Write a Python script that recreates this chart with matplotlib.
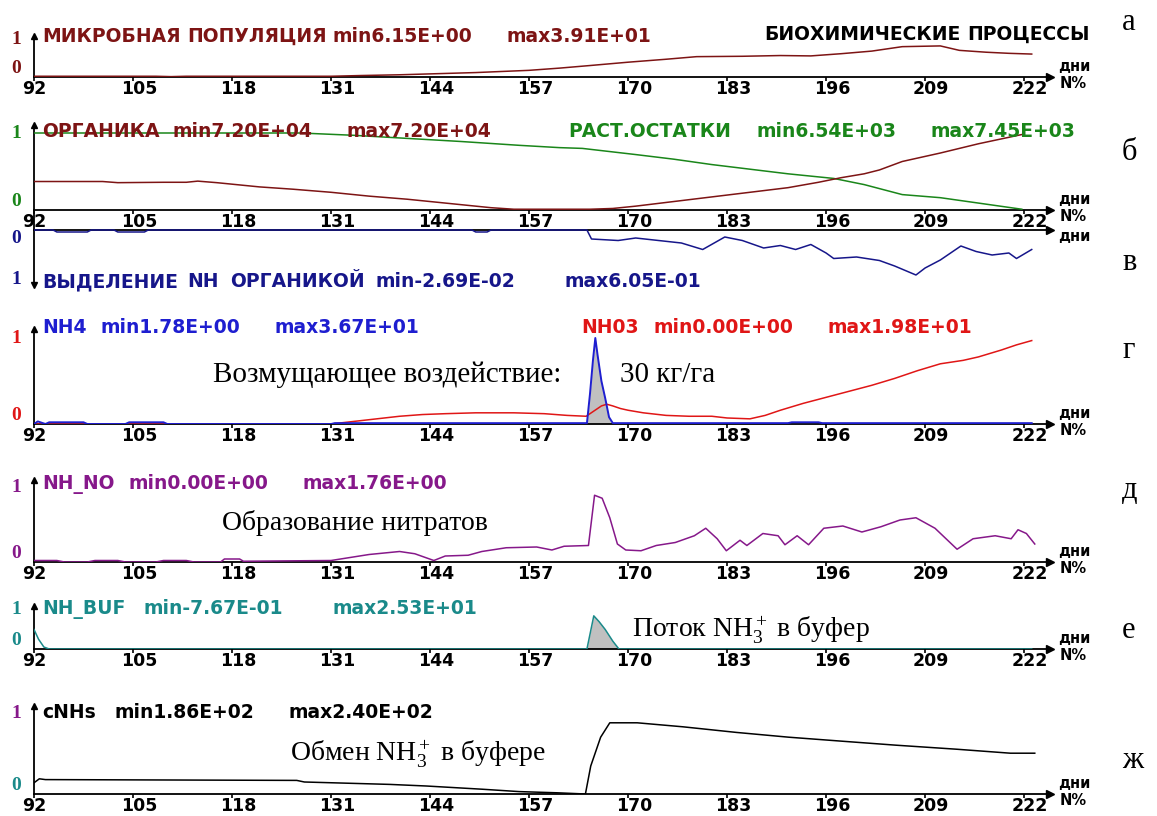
import matplotlib.pyplot as plt
from matplotlib import transforms

plt.rcParams['font.family'] = ['DejaVu Sans']
plt.rcParams['mathtext.fontset'] = 'custom'
plt.rcParams['mathtext.rm'] = 'Liberation Serif'
plt.rcParams['mathtext.it'] = 'Liberation Serif:italic'

W, H = 1157, 816
AX_L, AX_R = 34, 1050          # pixel columns of day 92 and of the arrow tip
DAY0, DAY_END = 92, 225.4
PITCH = 14.5                   # px per character of the screen font

tick_days = [92, 105, 118, 131, 144, 157, 170, 183, 196, 209, 222]

# а - microbial population (share of panel height)
mic_day = [92, 100, 108, 110, 112, 120, 131, 135, 140, 145,
           150, 157, 161, 165, 170, 175, 179, 185, 190, 194,
           198, 202, 206, 211, 213.5, 217, 220, 223]
mic_val = [0.02, 0.02, 0.02, 0.01, 0.02, 0.02, 0.02, 0.04, 0.06, 0.09,
           0.12, 0.18, 0.24, 0.31, 0.4, 0.48, 0.55, 0.56, 0.58, 0.57,
           0.63, 0.7, 0.82, 0.84, 0.72, 0.67, 0.64, 0.62]

# б - organic matter and plant residues
org_day = [92, 101, 103, 109, 112, 113.5, 116, 121.6, 126, 131,
           136, 141, 145, 148, 152, 155, 160, 165, 168, 171,
           176, 181, 186, 191, 195, 198, 201, 203, 206, 211,
           216, 221.7]
org_val = [0.37, 0.37, 0.355, 0.36, 0.36, 0.375, 0.355, 0.3, 0.27, 0.23,
           0.18, 0.14, 0.1, 0.07, 0.03, 0.01, 0.01, 0.01, 0.02, 0.05,
           0.11, 0.17, 0.23, 0.29, 0.36, 0.42, 0.47, 0.52, 0.63, 0.74,
           0.86, 0.98]
rast_day = [92, 127, 134, 141, 148, 155.7, 161, 164, 171, 176,
            181, 186, 191, 197, 201, 206, 211, 216, 221.7]
rast_val = [1.0, 1.0, 0.97, 0.93, 0.89, 0.84, 0.81, 0.8, 0.72, 0.66,
            0.59, 0.53, 0.47, 0.41, 0.33, 0.2, 0.16, 0.09, 0.01]

# в - NH release by organic matter (axis points down)
nhr_day = [92, 94.5, 95, 99, 99.5, 102.5, 103, 106.5, 107, 149.5,
           150, 151.5, 152, 164.6, 165.2, 168.7, 171, 174, 177, 179.8,
           182.7, 185, 187.8, 190, 192, 194, 196, 197, 200, 203,
           205, 207.8, 209, 211, 213.7, 215.7, 217.8, 220, 221, 223]
nhr_val = [0, 0, 0.04, 0.04, 0, 0, 0.04, 0.04, 0, 0,
           0.04, 0.04, 0, 0, 0.18, 0.21, 0.16, 0.21, 0.26, 0.39,
           0.14, 0.21, 0.36, 0.31, 0.39, 0.29, 0.46, 0.57, 0.54, 0.61,
           0.72, 0.9, 0.76, 0.6, 0.32, 0.43, 0.5, 0.46, 0.57, 0.39]

# г - NH4 and NO3
nh4_day = [92, 92.5, 93.5, 94, 98.5, 99, 104, 104.5, 109, 109.5,
           131, 131.5, 164.6, 165.0, 165.4, 165.7, 166.0, 166.5, 167.0, 167.5,
           168.0, 191, 191.5, 195, 195.5, 223]
nh4_val = [0.0, 0.03, 0.0, 0.02, 0.02, 0.0, 0.0, 0.02, 0.02, 0.0,
           0.0, 0.01, 0.01, 0.35, 0.75, 1.0, 0.8, 0.5, 0.3, 0.08,
           0.01, 0.01, 0.02, 0.02, 0.01, 0.01]
no3_day = [92, 131, 134, 137, 140, 143, 146, 150, 155, 159,
           162, 164.5, 165.5, 166.5, 167.2, 168, 169, 170, 172, 175,
           178, 181, 183, 186, 188, 190, 193, 196, 199, 202,
           205, 208, 211, 214, 216, 219, 221, 223]
no3_val = [0.0, 0.0, 0.03, 0.06, 0.09, 0.11, 0.12, 0.13, 0.13, 0.12,
           0.1, 0.09, 0.15, 0.21, 0.23, 0.21, 0.18, 0.16, 0.13, 0.1,
           0.09, 0.09, 0.07, 0.06, 0.1, 0.16, 0.24, 0.31, 0.38, 0.45,
           0.53, 0.62, 0.7, 0.74, 0.78, 0.86, 0.92, 0.97]

# д - nitrate formation
nhno_day = [92, 95, 96, 99, 100, 103, 104, 108, 109, 112,
            113, 116.5, 117, 119, 119.5, 131, 136, 140, 142, 144.5,
            146, 149, 150.8, 154, 158, 160, 161.6, 164.8, 165.6, 166.6,
            167.6, 168.6, 169.7, 171.7, 173.7, 176.2, 178.7, 180.2, 181.7, 182.9,
            184.7, 185.6, 187.7, 189.7, 190.6, 192.2, 193.7, 195.7, 198.2, 200.7,
            203.2, 205.7, 207.8, 210.3, 213.2, 215.3, 218.2, 220.3, 221.2, 222.3,
            223.4]
nhno_val = [0.02, 0.02, 0.0, 0.0, 0.02, 0.02, 0.0, 0.0, 0.02, 0.02,
            0.0, 0.0, 0.04, 0.04, 0.01, 0.02, 0.1, 0.14, 0.11, 0.02,
            0.08, 0.09, 0.14, 0.19, 0.2, 0.16, 0.21, 0.22, 0.89, 0.85,
            0.59, 0.24, 0.16, 0.15, 0.22, 0.26, 0.35, 0.45, 0.31, 0.15,
            0.29, 0.22, 0.38, 0.35, 0.23, 0.35, 0.23, 0.45, 0.48, 0.4,
            0.47, 0.56, 0.59, 0.45, 0.17, 0.31, 0.35, 0.31, 0.43, 0.38,
            0.24]

# е - flux into the buffer
buf_day = [92, 92.6, 93.3, 94, 164.6, 165.5, 166.2, 167, 168, 168.8, 223]
buf_val = [0.5, 0.25, 0.05, 0.0, 0.0, 0.85, 0.7, 0.5, 0.2, 0.0, 0.0]

# ж - exchange in the buffer
cnh_day = [92, 92.7, 93.5, 126.5, 127.5, 138.7, 143.5, 150.8, 155.7, 160.7,
           164.4, 165.1, 166.4, 167.6, 171.2, 177.2, 184.2, 191.1, 198.1, 205.2,
           213.1, 220.2, 223.4]
cnh_val = [0.14, 0.19, 0.18, 0.17, 0.15, 0.12, 0.1, 0.06, 0.03, 0.015,
           0.0, 0.35, 0.71, 0.89, 0.89, 0.84, 0.77, 0.71, 0.66, 0.61,
           0.56, 0.51, 0.51]

MAROON = '#7d1414'
GREEN = '#1a861a'
NAVY = '#16168a'
BLUE = '#1e1ed0'
RED = '#e01616'
PURPLE = '#86188a'
TEAL = '#1a8a8a'

fig = plt.figure(figsize=(W / 100, H / 100), dpi=100)
EXTRA = 0.1


def panel(y1, y0, top_px=None, down=False):
    span = abs(y0 - y1)
    left, width = AX_L / W, (AX_R - AX_L) / W
    if not down:
        ytop = y0 - span * (1 + EXTRA)
        ax = fig.add_axes([left, 1 - y0 / H, width, (y0 - ytop) / H])
        ax.set_ylim(0, 1 + EXTRA)
        vtop, vbot = 1 + EXTRA, 0
    else:
        ybot = y0 + span * (1 + EXTRA)
        vtop = -(y0 - top_px) / span
        ax = fig.add_axes([left, 1 - ybot / H, width, (ybot - top_px) / H])
        ax.set_ylim(1 + EXTRA, vtop)
        vbot = 1 + EXTRA
    ax.set_xlim(DAY0, DAY_END)
    for s in ax.spines.values():
        s.set_visible(False)
    ax.patch.set_alpha(0)
    ax.set_yticks([])
    blend = transforms.blended_transform_factory(ax.transAxes, ax.transData)
    ax.plot([0, 1], [0, 0], color='k', lw=1.3, transform=blend, clip_on=False)
    ax.plot([1], [0], marker='>', ms=6, color='k', transform=blend, clip_on=False)
    ax.plot([DAY0, DAY0], [vbot, vtop] if not down else [vtop, vbot], color='k', lw=1.3, clip_on=False)
    ax.plot([DAY0], [1 + EXTRA], marker='v' if down else '^', ms=5, color='k', clip_on=False)
    if not down:
        ax.set_xticks(tick_days)
        ax.set_xticklabels([str(d) for d in tick_days], fontsize=12.5, fontweight='bold')
        ax.tick_params(axis='x', length=3, width=1.2, pad=-1, direction='out')
        shift = transforms.ScaledTranslation(-0.12, 0.0, fig.dpi_scale_trans)
        for lab in ax.get_xticklabels():
            lab.set_horizontalalignment('left')
            lab.set_transform(lab.get_transform() + shift)
        ax.annotate('дни', xy=(1, 0), xycoords=blend, xytext=(6, 2), textcoords='offset points',
                    fontsize=10.5, fontweight='bold', va='bottom', ha='left')
        ax.annotate('N%', xy=(1, 0), xycoords=blend, xytext=(7, 1), textcoords='offset points',
                    fontsize=10.5, fontweight='bold', va='top', ha='left')
    else:
        ax.set_xticks([])
        ax.annotate('дни', xy=(1, 0), xycoords=blend, xytext=(6, 1), textcoords='offset points',
                    fontsize=10.5, fontweight='bold', va='top', ha='left')
    return ax, blend


def zero_one(ax, blend, c1, c0, down=False):
    ax.text(-0.013, 1, '1', color=c1, transform=blend, ha='right', va='center',
            fontsize=14, fontweight='bold', family='Liberation Serif')
    ax.text(-0.013, 0, '0', color=c0, transform=blend, ha='right',
            va='top' if down else 'bottom', fontsize=14, fontweight='bold', family='Liberation Serif')


def screen_text(x_px, y_px, s, color):
    # words of the fixed-pitch screen font, placed by character position
    pos = 0
    for word in s.split(' '):
        if word:
            fig.text((x_px + pos * PITCH) / W, 1 - (y_px + 7) / H, word, color=color,
                     fontsize=13.5, fontweight='bold', va='baseline', ha='left')
        pos += len(word) + 1


def serif(x_px, y_px, s, size=21):
    fig.text(x_px / W, 1 - y_px / H, s, family='Liberation Serif', fontsize=size,
             va='center', ha='left')


# а
ax, bl = panel(40, 77)
ax.plot(mic_day, mic_val, color=MAROON, lw=1.1)
zero_one(ax, bl, MAROON, MAROON)
screen_text(42, 35, 'МИКРОБНАЯ ПОПУЛЯЦИЯ min6.15E+00 max3.91E+01', MAROON)
screen_text(764, 33, 'БИОХИМИЧЕСКИЕ ПРОЦЕССЫ', 'black')

# б
ax, bl = panel(133, 210)
ax.plot(rast_day, rast_val, color=GREEN, lw=1.1)
ax.plot(org_day, org_val, color=MAROON, lw=1.1)
zero_one(ax, bl, GREEN, GREEN)
screen_text(42, 130, 'ОРГАНИКА min7.20E+04 max7.20E+04', MAROON)
screen_text(568, 130, 'РАСТ.ОСТАТКИ min6.54E+03 max7.45E+03', GREEN)

# в
ax, bl = panel(280, 230, top_px=210, down=True)
ax.plot(nhr_day, nhr_val, color=NAVY, lw=1.1)
zero_one(ax, bl, NAVY, NAVY, down=True)
screen_text(42, 280, 'ВЫДЕЛЕНИЕ NH ОРГАНИКОЙ min-2.69E-02 max6.05E-01', NAVY)

# г
ax, bl = panel(338, 424)
spike = [d > 160 and d < 170 for d in nh4_day]
ax.fill_between(nh4_day, nh4_val, where=spike, color='#c0c0c0', lw=0)
ax.plot(no3_day, no3_val, color=RED, lw=1.1)
ax.plot(nh4_day, nh4_val, color=BLUE, lw=1.4)
zero_one(ax, bl, RED, RED)
screen_text(42, 326, 'NH4 min1.78E+00 max3.67E+01', BLUE)
screen_text(581, 326, 'NH03 min0.00E+00 max1.98E+01', RED)
serif(213, 375, 'Возмущающее воздействие:')
serif(620, 375, '30 кг/га')

# д
ax, bl = panel(487, 562)
ax.plot(nhno_day, nhno_val, color=PURPLE, lw=1.1)
zero_one(ax, bl, PURPLE, PURPLE)
screen_text(42, 482, 'NH_NO min0.00E+00 max1.76E+00', PURPLE)
serif(222, 523, 'Образование нитратов', size=20)

# е
ax, bl = panel(610, 649)
peak = [d > 160 for d in buf_day]
ax.fill_between(buf_day, buf_val, where=peak, color='#c0c0c0', lw=0)
ax.plot(buf_day, buf_val, color=TEAL, lw=1.1)
zero_one(ax, bl, TEAL, TEAL)
screen_text(42, 607, 'NH_BUF min-7.67E-01 max2.53E+01', TEAL)
serif(632, 630, r'Поток $\mathrm{NH}_3^+$ в буфер', size=20)

# ж
ax, bl = panel(714, 794)
ax.plot(cnh_day, cnh_val, color='black', lw=1.1)
zero_one(ax, bl, PURPLE, TEAL)
screen_text(42, 711, 'cNHs min1.86E+02 max2.40E+02', 'black')
serif(290, 754, r'Обмен $\mathrm{NH}_3^+$ в буфере', size=20)

# panel letters
for letter, ypx in zip(['а', 'б', 'в', 'г', 'д', 'е', 'ж'], [22, 152, 263, 350, 490, 630, 760]):
    fig.text(1122 / W, 1 - ypx / H, letter, family='Liberation Serif', fontsize=22,
             va='center', ha='left')

fig.savefig('out.png', dpi=100)
